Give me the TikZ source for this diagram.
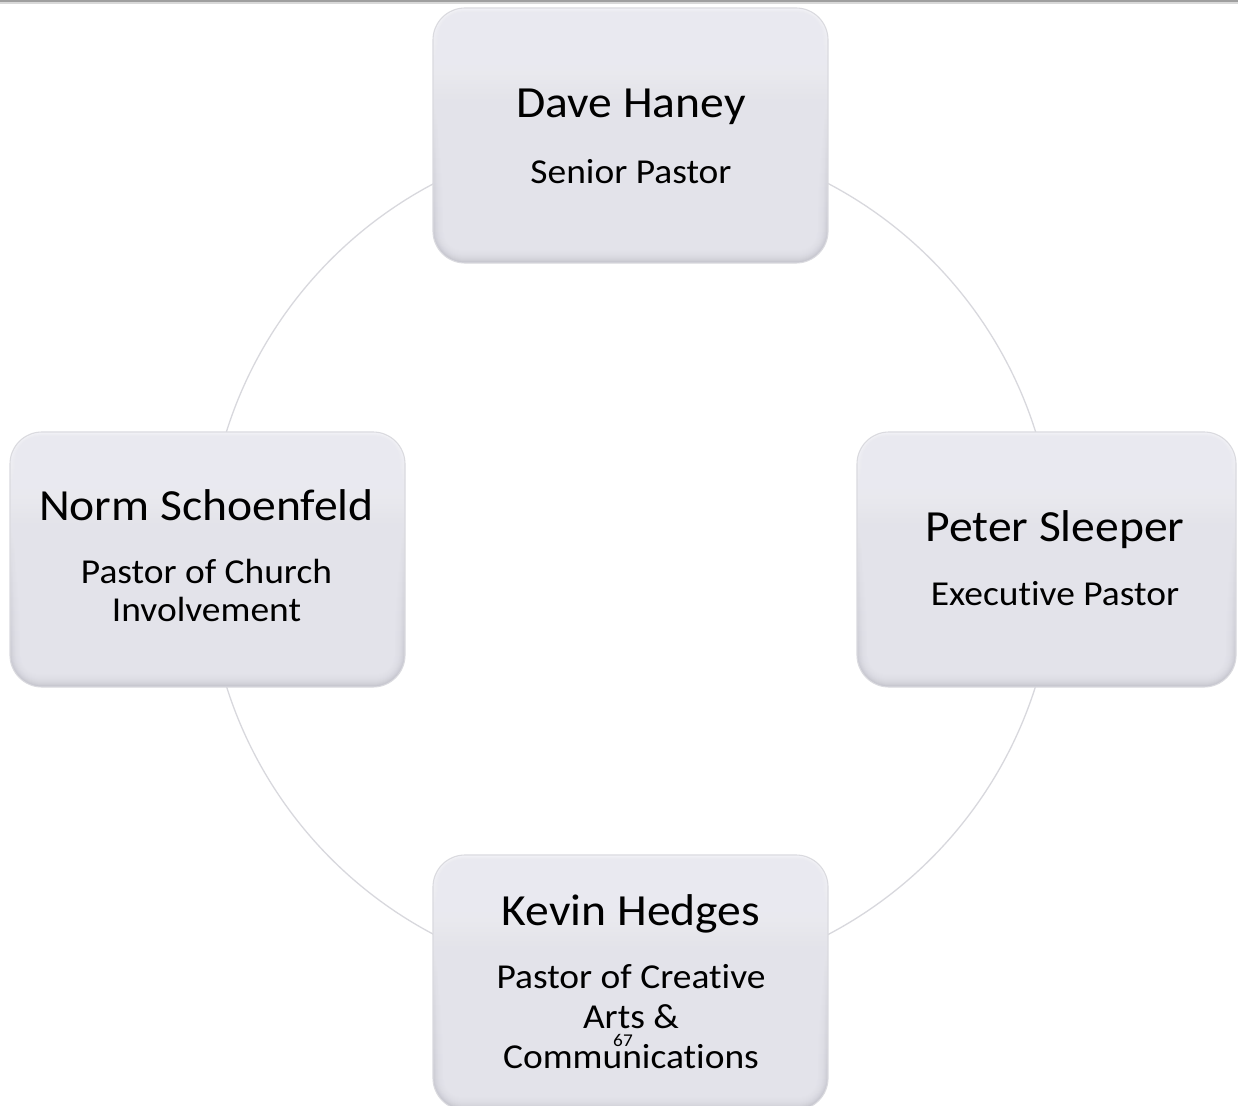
\documentclass[tikz,border=0pt]{standalone}
\usepackage{fontspec}
\setmainfont[FakeStretch=1.07, Ligatures=NoCommon]{Carlito}
\definecolor{boxin}{HTML}{E9E9F0}
\definecolor{boxtop}{HTML}{F6F6FA}
\definecolor{boxbot}{HTML}{C2C2CB}
\definecolor{rimc}{HTML}{DADADF}
\definecolor{ringc}{HTML}{D8D8DD}
\tikzset{
  pbox/.style={rounded corners=32pt, draw=rimc, line width=1.1pt, inner sep=0pt,
    path picture={
      \shade[top color=boxtop, bottom color=boxbot]
        (path picture bounding box.south west) rectangle (path picture bounding box.north east);
      \foreach \i in {1,...,16}{
        \pgfmathsetmacro\rr{max(4,32-\i*1.1)}
        \fill[boxin, fill opacity=0.16, rounded corners=\rr pt]
          ([shift={(\i*0.85pt,\i*1.0pt)}]path picture bounding box.south west)
          rectangle ([shift={(-\i*0.85pt,-\i*0.55pt)}]path picture bounding box.north east);
      }
    }},
  namet/.style={font=\fontsize{44.5}{50}\selectfont, inner sep=0pt, anchor=base},
  rolet/.style={font=\fontsize{35}{40}\selectfont, inner sep=0pt, anchor=base},
  numt/.style={font=\fontsize{18}{20}\selectfont, inner sep=0pt, anchor=base}
}
\begin{document}
\begin{tikzpicture}[x=1pt,y=-1pt]
\useasboundingbox (0,0) rectangle (1238,1105);
\fill[white] (0,0) rectangle (1238,1105);
\fill[gray!75] (0,0) rectangle (1238,2);
\fill[gray!30] (0,2) rectangle (1238,4);
% ring
\node[circle, draw=ringc, line width=1.3pt, minimum size=848pt, inner sep=0pt] (ring) at (631,559) {};
% boxes
\node[pbox, minimum width=395pt, minimum height=255pt] (dave) at (630.5,135.5) {};
\node[pbox, minimum width=379pt, minimum height=255pt] (peter) at (1046.5,559.5) {};
\node[pbox, minimum width=395pt, minimum height=255pt] (norm) at (207.5,559.5) {};
\node[pbox, minimum width=395pt, minimum height=255pt] (kevin) at (630.5,982.5) {};
% texts
\node[namet] (daveN) at (631,117.7) {Dave Haney};
\node[rolet] (daveR) at (631,183.3) {Senior Pastor};
\node[namet] (peterN) at (1055,541.7) {Peter Sleeper};
\node[rolet] (peterR) at (1055,605) {Executive Pastor};
\node[namet] (normN) at (206.5,520) {Norm Schoenfeld};
\node[rolet] (normR1) at (206.5,583.3) {Pastor of Church};
\node[rolet] (normR2) at (206.5,621.7) {Involvement};
\node[namet] (kevinN) at (631,925) {Kevin Hedges};
\node[rolet] (kevinR1) at (631,988.3) {Pastor of Creative};
\node[rolet] (kevinR2) at (631,1028.3) {Arts \&};
\node[rolet] (kevinR3) at (631,1068.3) {Communications};
\node[numt] (slidenum) at (623,1046.7) {67};
\end{tikzpicture}
\end{document}
